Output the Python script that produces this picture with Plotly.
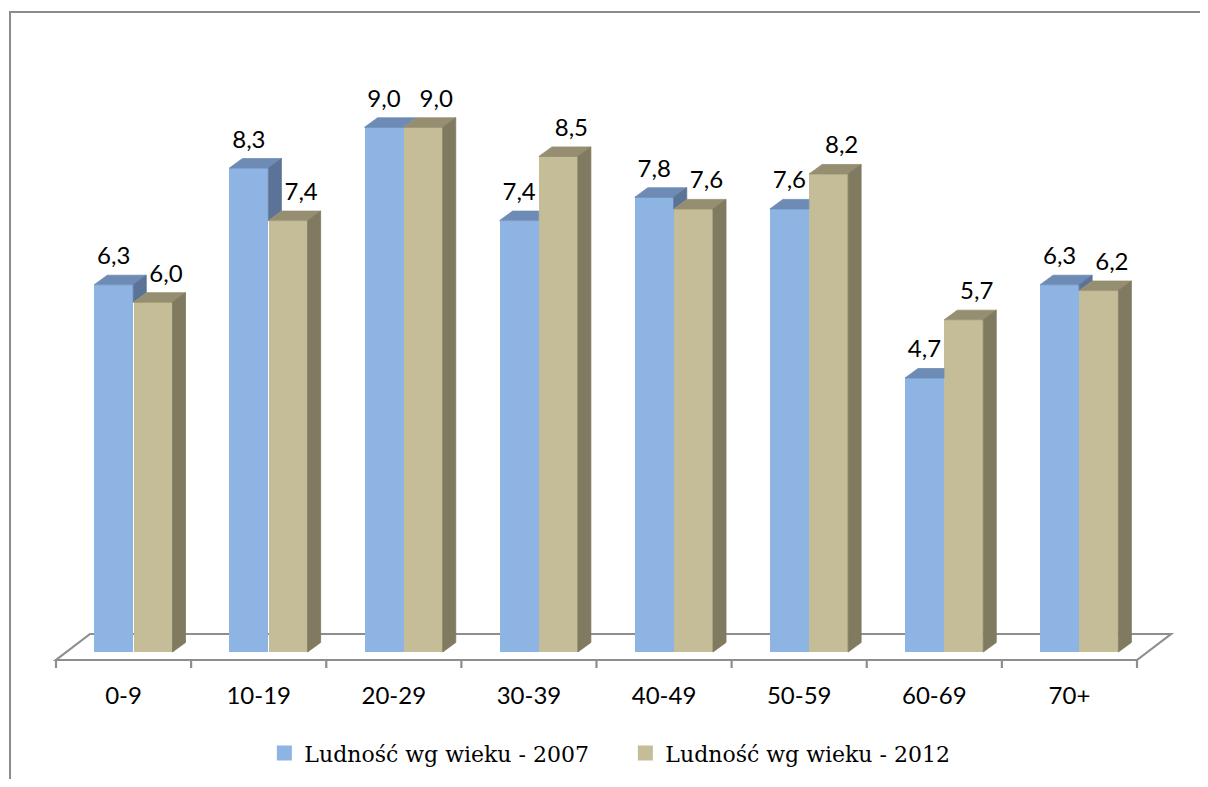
import plotly.graph_objects as go

categories = ["0-9", "10-19", "20-29", "30-39", "40-49", "50-59", "60-69", "70+"]
values_2007 = [6.3, 8.3, 9.0, 7.4, 7.8, 7.6, 4.7, 6.3]
values_2012 = [6.0, 7.4, 9.0, 8.5, 7.6, 8.2, 5.7, 6.2]
series_names = ["Ludność wg wieku - 2007", "Ludność wg wieku - 2012"]

# styling / geometry (category units on x, value units on y)
PX_X = 135.125          # pixels per category
PX_Y = 58.3             # pixels per value unit
BW = 39.0 / PX_X        # front face width
OFF_B = 0.4274          # blue bar center within category
OFF_T = 0.7179          # tan bar center within category
DX = 13.0 / PX_X        # depth x
DY = 9.5 / PX_Y         # depth y
FLOOR_FRONT = -8.0 / PX_Y
FLOOR_DX = 34.0 / PX_X
FLOOR_DY = 26.0 / PX_Y
TICK_BOTTOM = -16.0 / PX_Y
LABEL_UP = 26.5 / PX_Y
TAN_LABEL_SHIFT = 13.0 / PX_X

C_B_FRONT, C_B_TOP, C_B_SIDE = "#8EB4E3", "#6D8BB5", "#5A7396"
C_T_FRONT, C_T_TOP, C_T_SIDE = "#C4BD97", "#968E70", "#7F7A60"
GRID = "#8E8E8E"

n = len(categories)
xb = [k + OFF_B for k in range(n)]
xt = [k + OFF_T for k in range(n)]

fig = go.Figure()

# front faces
fig.add_trace(go.Bar(x=xb, y=values_2007, width=BW, name=series_names[0], showlegend=False,
                     marker=dict(color=C_B_FRONT, line=dict(width=0)), hoverinfo="skip"))
fig.add_trace(go.Bar(x=xt, y=values_2012, width=BW, name=series_names[1], showlegend=False,
                     marker=dict(color=C_T_FRONT, line=dict(width=0)), hoverinfo="skip"))


def poly_trace(xs, ys, color):
    return go.Scatter(x=xs, y=ys, mode="lines", fill="toself", fillcolor=color,
                      line=dict(color=color, width=0.8), showlegend=False,
                      hoverinfo="skip")


# blue tops and visible parts of blue sides
btx, bty, bsx, bsy = [], [], [], []
for k in range(n):
    vb, vt = values_2007[k], values_2012[k]
    xl, xr = xb[k] - BW / 2, xb[k] + BW / 2
    if vb >= vt:
        btx += [xl, xr, xr + DX, xl + DX, xl, None]
        bty += [vb, vb, vb + DY, vb + DY, vb, None]
        if vb > vt:
            bsx += [xr, xr, xr + DX, xr + DX, xr, None]
            bsy += [vt, vb, vb + DY, vt + DY, vt, None]
    else:
        e = vt - vb
        if e >= DY:
            btx += [xl, xr, xr, xl + DX, xl, None]
            bty += [vb, vb, vb + DY, vb + DY, vb, None]
        else:
            btx += [xl, xr, xr, xr + DX * (1 - e / DY), xl + DX, xl, None]
            bty += [vb, vb, vt, vb + DY, vb + DY, vb, None]

fig.add_trace(poly_trace(btx, bty, C_B_TOP))
if bsx:
    fig.add_trace(poly_trace(bsx, bsy, C_B_SIDE))

# tan tops and sides
ttx, tty, tsx, tsy = [], [], [], []
for k in range(n):
    v = values_2012[k]
    xl, xr = xt[k] - BW / 2, xt[k] + BW / 2
    ttx += [xl, xr, xr + DX, xl + DX, xl, None]
    tty += [v, v, v + DY, v + DY, v, None]
    tsx += [xr, xr, xr + DX, xr + DX, xr, None]
    tsy += [0, v, v + DY, DY, 0, None]
fig.add_trace(poly_trace(ttx, tty, C_T_TOP))
fig.add_trace(poly_trace(tsx, tsy, C_T_SIDE))

# data labels
lab_font = dict(family="Lato", size=24, color="#000000")
fig.add_trace(go.Scatter(x=xb, y=[v + LABEL_UP for v in values_2007], mode="text",
                         text=[f"{v:.1f}".replace(".", ",") for v in values_2007],
                         textposition="middle center", textfont=lab_font,
                         showlegend=False, hoverinfo="skip"))
fig.add_trace(go.Scatter(x=[x + TAN_LABEL_SHIFT for x in xt],
                         y=[v + LABEL_UP for v in values_2012], mode="text",
                         text=[f"{v:.1f}".replace(".", ",") for v in values_2012],
                         textposition="middle center", textfont=lab_font,
                         showlegend=False, hoverinfo="skip"))

# legend entries (square swatches)
for name, col in zip(series_names, [C_B_FRONT, C_T_FRONT]):
    fig.add_trace(go.Scatter(x=[None], y=[None], mode="markers", name=name,
                             marker=dict(symbol="square", size=15, color=col,
                                         line=dict(width=0)),
                             hoverinfo="skip"))

# floor (behind bars)
shapes = []
floor_path = (f"M 0 {FLOOR_FRONT} L {n} {FLOOR_FRONT} L {n + FLOOR_DX} {FLOOR_FRONT + FLOOR_DY} "
              f"L {FLOOR_DX} {FLOOR_FRONT + FLOOR_DY} Z")
shapes.append(dict(type="path", path=floor_path, xref="x", yref="y", layer="below",
                   line=dict(color=GRID, width=2.2), fillcolor="rgba(0,0,0,0)"))
for k in range(n + 1):
    shapes.append(dict(type="line", x0=k, x1=k, y0=FLOOR_FRONT, y1=TICK_BOTTOM,
                       xref="x", yref="y", layer="below",
                       line=dict(color=GRID, width=2.2)))
# outer frame (left and top edges; the rest lies outside the picture)
fx0 = (10 - 20) / 1170
fy1 = (670 - 12) / 650
shapes.append(dict(type="path", xref="paper", yref="paper",
                   path=f"M {fx0} -0.3 L {fx0} {fy1} L 1.03 {fy1}",
                   line=dict(color="#8C8C8C", width=2), layer="below"))

# page body has an 8px margin, so the figure is 16px smaller than the window
fig.update_layout(
    width=1192, height=771,
    margin=dict(l=12, r=10, t=12, b=109, autoexpand=False),
    paper_bgcolor="white", plot_bgcolor="white",
    barmode="overlay", bargap=0,
    separators=", ",
    shapes=shapes,
    showlegend=True,
    legend=dict(orientation="h", x=0.5174, xanchor="center", y=-0.128, yanchor="middle",
                font=dict(family="DejaVu Serif", size=22, color="#000000"),
                entrywidth=316, entrywidthmode="pixels", itemsizing="trace",
                traceorder="normal", bgcolor="rgba(0,0,0,0)"),
    xaxis=dict(range=[(20 - 56) / PX_X, (1190 - 56) / PX_X],
               tickmode="array", tickvals=[k + 0.5 for k in range(n)], ticktext=categories,
               ticks="", showline=False, showgrid=False, zeroline=False,
               tickfont=dict(family="Lato", size=24, color="#000000"),
               ticklabelstandoff=9, fixedrange=True),
    yaxis=dict(range=[(652 - 670) / PX_Y, (652 - 20) / PX_Y], visible=False,
               fixedrange=True),
)

fig.write_html("out.html")
